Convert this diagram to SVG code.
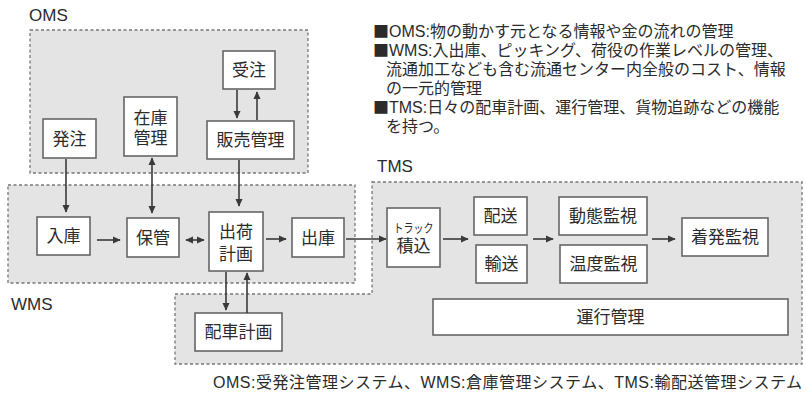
<svg xmlns="http://www.w3.org/2000/svg" width="806" height="394" viewBox="0 0 806 394">
<style>
text{font-family:"Liberation Sans","Noto Sans CJK JP",sans-serif;fill:#2b2b2b}
.n{font-size:17px;text-anchor:middle}
.lbl{font-size:17px}
.lg{font-size:16px}
.sq{font-family:"Noto Sans CJK JP",sans-serif}
.reg{fill:#e4e4e4;stroke:#777;stroke-width:1.3;stroke-dasharray:3,2.5}
.box{fill:#fff;stroke:#666;stroke-width:1.6}
.c{stroke:#3a3a3a;stroke-width:1.6;fill:none}
</style>
<defs>
<marker id="ah" viewBox="0 0 10 10" refX="9" refY="5" markerWidth="8" markerHeight="8" orient="auto-start-reverse" markerUnits="userSpaceOnUse">
<path d="M0,0.5 L10,5 L0,9.5 z" fill="#3a3a3a"/>
</marker>
</defs>
<rect width="806" height="394" fill="#fff"/>
<g id="regions">
<rect class="reg" x="30" y="30" width="278" height="143"/>
<rect class="reg" x="8" y="185" width="347" height="98"/>
<path class="reg" d="M372,182 H802 V364 H175 V294 H372 Z"/>
<text class="lbl" x="29" y="21">OMS</text>
<text class="lbl" x="11" y="310">WMS</text>
<text class="lbl" x="377" y="172">TMS</text>
</g>
<g id="legend">
<text class="lg" x="373" y="37"><tspan class="sq">■</tspan>OMS:物の動かす元となる情報や金の流れの管理</text>
<text class="lg" x="373" y="56"><tspan class="sq">■</tspan>WMS:入出庫、ピッキング、荷役の作業レベルの管理、</text>
<text class="lg" x="386" y="75">流通加工なども含む流通センター内全般のコスト、情報</text>
<text class="lg" x="386" y="94">の一元的管理</text>
<text class="lg" x="373" y="113"><tspan class="sq">■</tspan>TMS:日々の配車計画、運行管理、貨物追跡などの機能</text>
<text class="lg" x="386" y="132">を持つ。</text>
</g>
<g id="juchu"><rect class="box" x="223" y="51" width="52" height="38"/><text class="n" x="249" y="76">受注</text></g>
<g id="zaiko"><rect class="box" x="124" y="97" width="53" height="59"/><text class="n" x="150.5" y="124">在庫</text><text class="n" x="150.5" y="144">管理</text></g>
<g id="hatchu"><rect class="box" x="43" y="119" width="53" height="39"/><text class="n" x="69.5" y="144.5">発注</text></g>
<g id="hanbai"><rect class="box" x="207" y="121" width="87" height="38"/><text class="n" x="250.5" y="146">販売管理</text></g>
<g id="nyuko"><rect class="box" x="37" y="217" width="53" height="38"/><text class="n" x="63.5" y="242">入庫</text></g>
<g id="hokan"><rect class="box" x="127" y="218" width="52" height="39"/><text class="n" x="153" y="243.5">保管</text></g>
<g id="shukka"><rect class="box" x="209" y="212" width="54" height="59"/><text class="n" x="236" y="238">出荷</text><text class="n" x="236" y="260">計画</text></g>
<g id="shukko"><rect class="box" x="292" y="218" width="52" height="39"/><text class="n" x="318" y="243.5">出庫</text></g>
<g id="haisha"><rect class="box" x="195" y="313" width="87" height="38"/><text class="n" x="238.5" y="338">配車計画</text></g>
<g id="truck"><rect class="box" x="387" y="208" width="53" height="59"/><text class="n" x="413.5" y="232.5" style="font-size:12px" textLength="40" lengthAdjust="spacingAndGlyphs">トラック</text><text class="n" x="413.5" y="252">積込</text></g>
<g id="haiso"><rect class="box" x="474" y="197" width="53" height="38"/><text class="n" x="500.5" y="222">配送</text></g>
<g id="yuso"><rect class="box" x="476" y="245" width="51" height="38"/><text class="n" x="501.5" y="270">輸送</text></g>
<g id="dotai"><rect class="box" x="559" y="197" width="88" height="38"/><text class="n" x="603" y="222">動態監視</text></g>
<g id="ondo"><rect class="box" x="560" y="245" width="87" height="38"/><text class="n" x="603.5" y="270">温度監視</text></g>
<g id="chakuhatsu"><rect class="box" x="682" y="218" width="86" height="38"/><text class="n" x="725" y="243">着発監視</text></g>
<g id="unko"><rect class="box" x="433" y="299" width="355" height="36"/><text class="n" x="610.5" y="323">運行管理</text></g>
<g id="connectors">
<path class="c" d="M66,159 V212" marker-end="url(#ah)"/>
<path class="c" d="M152,158 V213" marker-start="url(#ah)" marker-end="url(#ah)"/>
<path class="c" d="M239,160 V206" marker-end="url(#ah)"/>
<path class="c" d="M237,90 V118" marker-end="url(#ah)"/>
<path class="c" d="M257,120 V92" marker-end="url(#ah)"/>
<path class="c" d="M97,240 H120" marker-end="url(#ah)"/>
<path class="c" d="M186,240 H204" marker-start="url(#ah)" marker-end="url(#ah)"/>
<path class="c" d="M266,239 H286" marker-end="url(#ah)"/>
<path class="c" d="M346,239 H386" marker-end="url(#ah)"/>
<path class="c" d="M226,272 V310" marker-end="url(#ah)"/>
<path class="c" d="M247,313 V273" marker-end="url(#ah)"/>
<path class="c" d="M443,239 H468" marker-end="url(#ah)"/>
<path class="c" d="M533,239 H553" marker-end="url(#ah)"/>
<path class="c" d="M652,239 H675" marker-end="url(#ah)"/>
</g>
<text class="lg" x="213" y="388" textLength="589" lengthAdjust="spacing">OMS:受発注管理システム、WMS:倉庫管理システム、TMS:輸配送管理システム</text>
</svg>
